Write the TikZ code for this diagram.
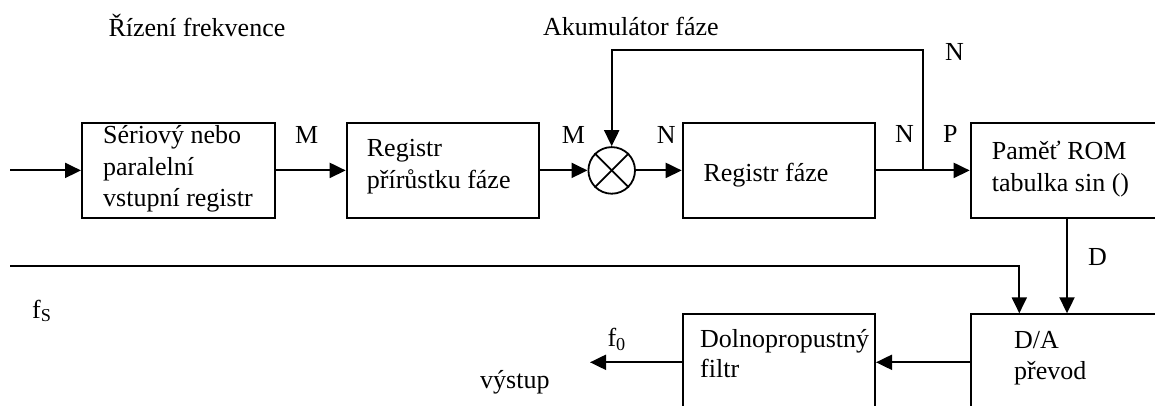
\documentclass[tikz,border=0pt]{standalone}
\usepackage{fontspec}
\setmainfont{Liberation Serif}
\usetikzlibrary{arrows.meta}
\begin{document}
\begin{tikzpicture}[x=1pt,y=-1pt,
  lw/.style={line width=2pt},
  blk/.style={draw, line width=2pt, rectangle, inner sep=0pt},
  conn/.style={line width=2pt, -{Triangle[length=16pt,width=15pt]}},
  txt/.style={inner sep=0pt, anchor=base west, font=\fontsize{26}{31.5}\selectfont}]
\useasboundingbox (0,0) rectangle (1155,405);
\clip (0,0) rectangle (1155,405);

% blocks
\node[blk, minimum width=193pt, minimum height=95.3pt] (b1) at (178.5,170.4) {};
\node[blk, minimum width=192.6pt, minimum height=95.3pt] (b2) at (443,170.4) {};
\node[blk, minimum width=192.3pt, minimum height=95.3pt] (b3) at (778.85,170.4) {};
\node[blk, minimum width=229.3pt, minimum height=95.3pt] (rom) at (1085.35,170.4) {};
\node[blk, minimum width=229pt, minimum height=135.7pt] (da) at (1085.5,382.15) {};
\node[blk, minimum width=191.7pt, minimum height=135.7pt] (filter) at (779.15,382.15) {};
\node[draw, circle, line width=1.8pt, inner sep=0pt, minimum size=46.6pt] (sum) at (611.7,170.4) {};
\draw[line width=1.8pt] (sum.north east) -- (sum.south west);
\draw[line width=1.8pt] (sum.north west) -- (sum.south east);

% coordinates
\coordinate (in) at (10,170.4);
\coordinate (j) at (923,170.4);
\coordinate (jtop) at (923,50);
\coordinate (dx) at (1067,0);
\coordinate (fsstart) at (10,266);
\coordinate (fsx) at (1019.3,266);
\coordinate (ay) at (0,362.3);
\coordinate (out) at (590,362.3);

% connectors
\draw[conn] (in) -- (b1.west);
\draw[conn] (b1.east) -- (b2.west);
\draw[conn] (b2.east) -- (sum.west);
\draw[conn] (sum.east) -- (b3.west);
\draw[lw] (b3.east) -- (j);
\draw[conn] (j) -- (rom.west);
\draw[conn] (j) -- (jtop) -| (sum.north);
\draw[conn] (rom.south -| dx) -- (da.north -| dx);
\draw[conn] (fsstart) -- (fsx) -- (fsx |- da.north);
\draw[conn] (da.west |- ay) -- (filter.east |- ay);
\draw[conn] (filter.west |- ay) -- (out);

% texts
\node[txt] (t1) at (108.3,36) {Řízení frekvence};
\node[txt] (t2) at (543,35) {Akumulátor fáze};
\node[txt] (b1a) at (103,143.3) {Sériový nebo};
\node[txt] (b1b) at (103,175) {paralelní};
\node[txt] (b1c) at (103,206.5) {vstupní registr};
\node[txt] (b2a) at (366.7,156.7) {Registr};
\node[txt] (b2b) at (366.7,188.3) {přírůstku fáze};
\node[txt] (b3a) at (703.3,181.7) {Registr fáze};
\node[txt] (roma) at (991.7,159.5) {Paměť ROM};
\node[txt] (romb) at (991.7,191) {tabulka sin ()};
\node[txt] (daa) at (1014,348) {D/A};
\node[txt] (dab) at (1014,379.5) {převod};
\node[txt] (fia) at (700,347) {Dolnopropustný};
\node[txt] (fib) at (700,377) {filtr};

\node[txt] (lM1) at (295,143.3) {M};
\node[txt] (lM2) at (561.7,143.3) {M};
\node[txt] (lN1) at (656.7,143.3) {N};
\node[txt] (lN2) at (895,142.7) {N};
\node[txt] (lP) at (943,142.7) {P};
\node[txt] (lN3) at (945,60.7) {N};
\node[txt] (lD) at (1088,265) {D};
\node[txt] (lfs) at (32,318) {f\textsubscript{S}};
\node[txt] (lf0) at (607.3,346.7) {f\textsubscript{0}};
\node[txt] (lout) at (480,388) {výstup};
\end{tikzpicture}
\end{document}
